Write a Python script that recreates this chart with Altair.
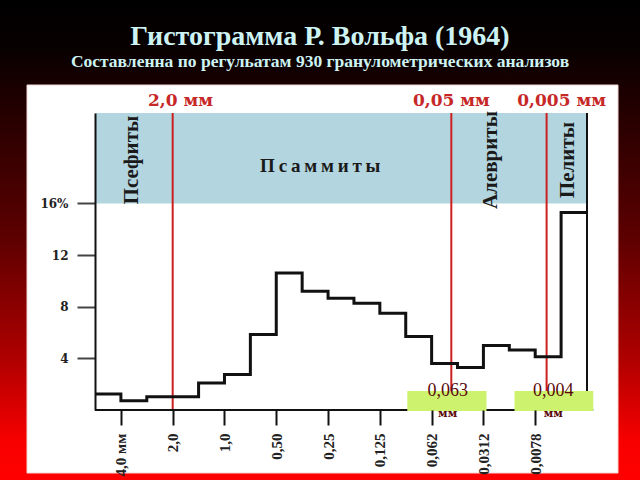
import json
import altair as alt
import pandas as pd

# ---------------- data ----------------
bin_left = [-2.5, -2.0, -1.5, -0.5, 0.0, 0.5, 1.0, 1.5, 2.0, 2.5, 3.0, 3.5, 4.0, 4.5, 5.0, 5.5, 6.0, 6.5]
bin_end = 7.0
percent = [1.24, 0.72, 1.03, 2.1, 2.75, 5.84, 10.6, 9.2, 8.65, 8.27, 7.5, 5.7, 3.6, 3.3, 5.0, 4.65, 4.13, 15.3]

tick_pos = [-2, -1, 0, 1, 2, 3, 4, 5, 6]
tick_labels = ["4,0 мм", "2,0", "1,0", "0,50", "0,25", "0,125", "0,062", "0,0312", "0,0078"]
y_ticks = [4, 8, 12, 16]

x_domain = [-2.5, 7.0]
y_domain = [0, 23]
band_low, band_high = 16, 23

classes = ["Псефиты", "\u2009".join("Псаммиты"), "Алевриты", "Пелиты"]
class_x = [-1.79, 1.85, 5.14, 6.64]
class_y = [19.36, 18.9, 19.36, 19.36]
class_angle = [270, 0, 270, 270]

boundary_x = [-1.0, 4.38, 6.22]
boundary_labels = ["2,0 мм", "0,05 мм", "0,005 мм"]
boundary_label_x = [-0.85, 4.38, 6.51]
boundary_label_y = 23.54

box_left = [3.53, 5.60]
box_right = [5.06, 7.12]
box_bottom, box_top = -0.08, 1.47
box_values = ["0,063", "0,004"]
box_units = ["мм", "мм"]
box_text_x = [4.31, 6.35]
box_value_y = 1.08
box_unit_y = -0.54

title_text = "Гистограмма Р. Вольфа (1964)"
subtitle_text = "Составленна по регульатам 930 гранулометрических анализов"

SERIF = "Liberation Serif"
WIDE_SERIF = "DejaVu Serif"

# ---------------- scales ----------------
xs = alt.Scale(domain=x_domain, nice=False, zero=False)
ys = alt.Scale(domain=y_domain, nice=False, zero=False)

one = pd.DataFrame({"k": [0]})

gradient = alt.LinearGradient(
    gradient="linear",
    stops=[
        alt.GradientStop(color="#000000", offset=0),
        alt.GradientStop(color="#080000", offset=0.1),
        alt.GradientStop(color="#5e0000", offset=0.5),
        alt.GradientStop(color="#b00000", offset=0.75),
        alt.GradientStop(color="#f80000", offset=0.92),
        alt.GradientStop(color="#ff0000", offset=1),
    ],
    x1=0, x2=0, y1=0, y2=1,
)

background = alt.Chart(one).mark_rect(color=gradient).encode(
    x=alt.value(-95), x2=alt.value(545), y=alt.value(-113), y2=alt.value(367)
)
panel = alt.Chart(one).mark_rect(color="white", stroke="#f3d6d6", strokeWidth=1).encode(
    x=alt.value(-68), x2=alt.value(523), y=alt.value(-28), y2=alt.value(360)
)

band_df = pd.DataFrame({"x": [x_domain[0]], "x2": [x_domain[1]], "y": [band_low], "y2": [band_high]})
band = alt.Chart(band_df).mark_rect(color="#b3d5df").encode(
    x=alt.X("x:Q", scale=xs,
            axis=alt.Axis(values=tick_pos,
                          labelExpr=json.dumps(tick_labels) + "[datum.value + 2]",
                          labelAngle=-90, labelFont=SERIF, labelFontWeight="bold",
                          labelFontSize=15, labelColor="#222222", labelPadding=8,
                          labelFlush=False, labelOverlap=False,
                          tickSize=15, tickWidth=2, tickColor="#111111",
                          domain=False, grid=False, title=None, zindex=1)),
    x2="x2:Q",
    y=alt.Y("y:Q", scale=ys,
            axis=alt.Axis(values=y_ticks,
                          labelExpr="datum.value == 16 ? '16%' : datum.label",
                          labelFont=WIDE_SERIF, labelFontWeight="bold", labelFontSize=12,
                          labelColor="#222222", labelPadding=9,
                          tickSize=18, tickWidth=2, tickColor="#444444",
                          domain=True, domainColor="#111111", domainWidth=2,
                          grid=False, title=None, zindex=1)),
    y2="y2:Q",
)

cls_df = pd.DataFrame({"label": classes, "x": class_x, "y": class_y, "angle": class_angle})
cls_rot = alt.Chart(cls_df).transform_filter("datum.angle > 0").mark_text(
    font=SERIF, fontWeight="bold", fontSize=21, color="#1a1a1a", angle=270,
    align="center", baseline="middle"
).encode(x=alt.X("x:Q", scale=xs), y=alt.Y("y:Q", scale=ys), text="label:N")
cls_flat = alt.Chart(cls_df).transform_filter("datum.angle == 0").mark_text(
    font=SERIF, fontWeight="bold", fontSize=19, color="#1a1a1a",
    align="center", baseline="middle"
).encode(x=alt.X("x:Q", scale=xs), y=alt.Y("y:Q", scale=ys), text="label:N")

bnd_df = pd.DataFrame({"x": boundary_x, "y": [y_domain[0]] * 3, "y2": [band_high] * 3})
red_lines = alt.Chart(bnd_df).mark_rule(color="#cc2020", strokeWidth=2).encode(
    x=alt.X("x:Q", scale=xs), y=alt.Y("y:Q", scale=ys), y2="y2:Q"
)

hist_df = pd.DataFrame({"x": bin_left + [bin_end], "y": percent + [percent[-1]]})
hist = alt.Chart(hist_df).mark_line(interpolate="step-after", color="#111111", strokeWidth=3).encode(
    x=alt.X("x:Q", scale=xs), y=alt.Y("y:Q", scale=ys)
)

frame_df = pd.DataFrame({"x": [x_domain[1]], "y": [y_domain[0]], "y2": [band_high]})
right_frame = alt.Chart(frame_df).mark_rule(color="#111111", strokeWidth=2).encode(
    x=alt.X("x:Q", scale=xs), y=alt.Y("y:Q", scale=ys), y2="y2:Q"
)

base_df = pd.DataFrame({"x": [x_domain[0]], "x2": [box_right[-1]], "y": [0]})
baseline = alt.Chart(base_df).mark_rule(color="#111111", strokeWidth=2).encode(
    x=alt.X("x:Q", scale=xs), x2="x2:Q", y=alt.Y("y:Q", scale=ys)
)

blab_df = pd.DataFrame({"label": boundary_labels, "x": boundary_label_x, "y": [boundary_label_y] * 3})
red_labels = alt.Chart(blab_df).mark_text(
    font=WIDE_SERIF, fontWeight="bold", fontSize=17, color="#c62828", align="center", baseline="alphabetic"
).encode(x=alt.X("x:Q", scale=xs), y=alt.Y("y:Q", scale=ys), text="label:N")

box_df = pd.DataFrame({"x": box_left, "x2": box_right, "y": [box_bottom] * 2, "y2": [box_top] * 2})
boxes = alt.Chart(box_df).mark_rect(color="#ccf26e").encode(
    x=alt.X("x:Q", scale=xs), x2="x2:Q", y=alt.Y("y:Q", scale=ys), y2="y2:Q"
)
bt_df = pd.DataFrame({"v": box_values, "u": box_units, "x": box_text_x,
                      "yv": [box_value_y] * 2, "yu": [box_unit_y] * 2})
box_vals = alt.Chart(bt_df).mark_text(
    font=SERIF, fontSize=18, color="#5a0a0a", align="center", baseline="alphabetic"
).encode(x=alt.X("x:Q", scale=xs), y=alt.Y("yv:Q", scale=ys), text="v:N")
box_units_m = alt.Chart(bt_df).mark_text(
    font=WIDE_SERIF, fontWeight="bold", fontSize=11, color="#5a0a0a", align="center", baseline="alphabetic"
).encode(x=alt.X("x:Q", scale=xs), y=alt.Y("yu:Q", scale=ys), text="u:N")

title_df = pd.DataFrame({"t": [title_text], "s": [subtitle_text]})
title = alt.Chart(title_df).mark_text(
    font=SERIF, fontWeight="bold", fontSize=28, color="#cdf3f3", align="center", baseline="alphabetic"
).encode(x=alt.value(225), y=alt.value(-68), text="t:N")
subtitle = alt.Chart(title_df).mark_text(
    font=SERIF, fontWeight="bold", fontSize=17.5, color="#cdf3f3", align="center", baseline="alphabetic"
).encode(x=alt.value(225), y=alt.value(-46), text="s:N")

chart = alt.layer(
    background, panel, band, cls_rot, cls_flat, red_lines, hist, right_frame, baseline,
    red_labels, boxes, box_vals, box_units_m, title, subtitle
).properties(
    width=492, height=297,
    autosize=alt.AutoSizeParams(type="none"),
    padding={"left": 95, "top": 113, "right": 53, "bottom": 70},
).configure_view(stroke=None)

chart.save("out.html", embed_options={"renderer": "svg", "actions": False})
